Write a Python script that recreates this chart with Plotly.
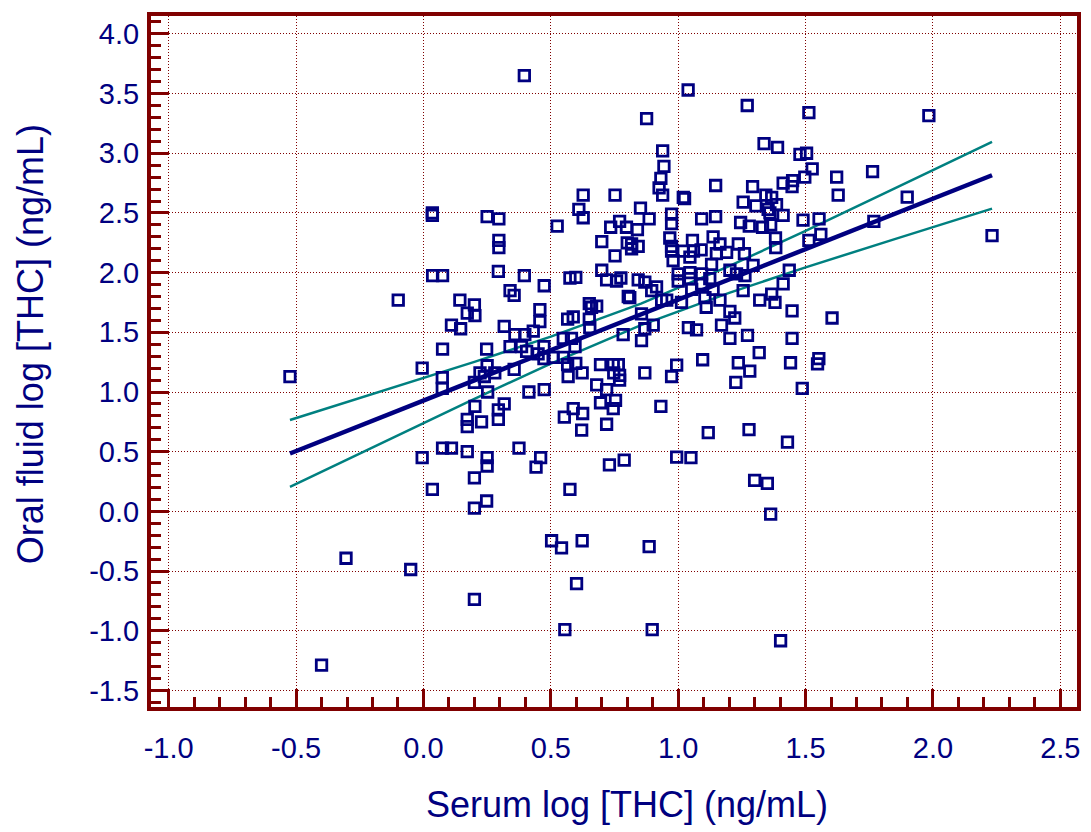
import plotly.graph_objects as go

# ---- data ----
serum_log = [
    0.396, 0.035, 0.035, 0.25, 0.296, 0.296, 0.296, 0.525, 0.627, 0.61, 0.627, 0.752, 0.70, 0.735, 0.77, 0.797, 0.752, 0.80,
    1.039, 0.876, 1.271, 1.513, 0.939, 1.337, 1.39, 1.478, 1.504, 0.944, 1.526, 0.932, 0.925, 0.939, 1.02, 1.025,
    1.147, 1.292, 1.412, 1.449, 1.447, 1.497, 1.622, 1.628, 1.344, 1.367, 1.255, 1.305, 1.353, 1.386, 1.412, 1.36,
    1.49, 1.553, 1.56, 1.513, 0.852, 0.886, 0.84, 0.974, 0.974, 1.092, 1.147, 1.245, 1.279, 1.331, 1.363, 1.382,
    0.967, 0.974, 0.817, 0.843, 1.056, 1.137, 1.164, 1.236, 1.383,
    0.974, 1.02, 1.06, 1.09, 0.817, 1.15, 1.19, 1.26, 0.98, 1.046, 1.131, 1.294, 1.436,
    0.843, 0.869, 0.915, 1.0, 1.046, 1.092, 1.0, 1.046, 1.203, 1.229, 1.262, 1.124, 1.053, 1.092, 1.137,
    0.81, 0.896, 0.935, 0.955, 1.013, 1.105, 1.164, 1.11, 1.255, 1.32, 1.367, 1.38, 1.412, 1.203, 1.222, 1.447,
    1.604, 0.856, 0.902, 0.869, 0.784, 0.856, 1.04, 1.072, 1.17, 1.203, 1.272, 1.447, 1.318, 1.096, 1.236, 1.441,
    1.552, 1.547, 0.994, 0.869, 0.974, 1.281, 1.226, 1.487, 0.932, 1.118, 1.278, 1.429, 0.994, 1.05, 1.30, 1.35,
    0.036, 0.075, 0.294, 0.396, 0.474, -0.099, 0.34, 0.356, 0.143, 0.20, 0.172, 0.202, 0.11, 0.146, 0.457, 0.457,
    0.317, 0.359, 0.398, 0.431, 0.34, 0.385, 0.405, 0.45, 0.473, 0.473, 0.509, 0.075, 0.248, -0.005, 0.074, 0.074,
    0.25, 0.222, 0.28, 0.20, 0.239, 0.356, 0.252, 0.414, 0.474, 0.317, 0.294, 0.202, 0.172, 0.172, 0.228, 0.294,
    -0.005, 0.075, 0.11, 0.172, 0.25, 0.25, 0.20, 0.375, 0.46, 0.442, 0.73, 0.788, 0.553, 0.588, 0.625, 0.621,
    0.695, 0.745, 0.754, 0.719, 0.68, 0.719, 0.568, 0.623, 0.566, 0.598, 0.695, 0.745, 0.765, 0.747, 0.77, 0.77,
    0.549, 0.581, 0.566, 0.588, 0.651, 0.66, 0.68, 0.651, 0.653, 0.575, 0.598, 0.70, 0.719, 0.758, 0.775, 0.804,
    0.595, 0.549,
    0.035, 0.248, 0.20, 0.575, -0.05, 0.503, 0.542, 0.623, 0.601, 0.20, 0.555,
    1.363, 0.886, 0.898, 1.402, -0.304, -0.40, -0.524,
    1.984, 1.763, 1.899, 1.768, 2.232,
]
oral_log = [
    3.65, 2.50, 2.48, 2.47, 2.45, 2.27, 2.21, 2.39, 2.65, 2.53, 2.46, 2.65, 2.26, 2.38, 2.43, 2.38, 2.14, 2.25,
    3.53, 3.29, 3.40, 3.34, 3.02, 3.08, 3.05, 2.99, 3.00, 2.89, 2.87, 2.79, 2.71, 2.65, 2.63, 2.62,
    2.73, 2.72, 2.75, 2.77, 2.72, 2.80, 2.80, 2.65, 2.65, 2.63, 2.59, 2.56, 2.53, 2.57, 2.48, 2.50,
    2.44, 2.45, 2.32, 2.27, 2.54, 2.45, 2.36, 2.49, 2.41, 2.45, 2.47, 2.42, 2.39, 2.38, 2.40, 2.29,
    2.29, 2.22, 2.24, 2.22, 2.27, 2.30, 2.24, 2.24, 2.21,
    2.18, 2.18, 2.18, 2.19, 2.20, 2.16, 2.17, 2.16, 2.10, 2.13, 2.07, 2.06, 2.02,
    1.94, 1.92, 1.88, 1.99, 2.00, 1.99, 1.93, 1.95, 2.02, 1.99, 1.975, 1.95, 1.86, 1.905, 1.86,
    1.79, 1.85, 1.77, 1.77, 1.75, 1.79, 1.77, 1.71, 1.85, 1.77, 1.82, 1.75, 1.905, 1.675, 1.62, 1.68,
    1.62, 1.655, 1.56, 1.53, 1.48, 1.43, 1.54, 1.52, 1.56, 1.45, 1.475, 1.45, 1.33, 1.27, 1.245, 1.245,
    1.28, 1.235, 1.225, 1.16, 1.13, 1.175, 1.08, 1.03, 0.88, 0.66, 0.685, 0.58, 0.455, 0.45, 0.26, 0.235,
    1.975, 1.975, 2.01, 1.975, 1.89, 1.77, 1.85, 1.81, 1.77, 1.73, 1.66, 1.64, 1.56, 1.53, 1.69, 1.59,
    1.55, 1.48, 1.48, 1.51, 1.38, 1.38, 1.34, 1.32, 1.38, 1.28, 1.29, 1.36, 1.36, 1.20, 1.12, 1.03,
    1.22, 1.16, 1.16, 1.08, 1.13, 1.19, 1.00, 1.00, 1.02, 0.90, 0.85, 0.88, 0.77, 0.71, 0.75, 0.77,
    0.45, 0.53, 0.53, 0.50, 0.45, 0.38, 0.28, 0.53, 0.45, 0.37, 0.39, 0.43, 0.79, 0.86, 0.82, 0.68,
    0.91, 0.86, 0.93, 0.73, 1.06, 1.02, 1.13, 1.16, 1.23, 1.24, 1.23, 1.23, 1.23, 1.16, 1.14, 1.10,
    1.45, 1.45, 1.61, 1.63, 1.74, 1.71, 1.72, 1.61, 1.54, 1.955, 1.96, 2.02, 1.94, 1.93, 1.955, 1.80,
    1.38, 1.29,
    0.185, 0.087, 0.027, 0.185, -0.487, -0.246, -0.306, -0.246, -0.606, -0.737, -0.99,
    -0.023, -0.296, -0.99, -1.084, -0.393, -1.289, 1.128,
    3.316, 2.846, 2.633, 2.43, 2.31,
]

# regression line and 95% confidence band
fit_x = [-0.524, -0.2, 0.2, 0.5, 0.854, 1.2, 1.5, 1.85, 2.232]
fit_y = [0.485, 0.759, 1.097, 1.351, 1.650, 1.943, 2.197, 2.493, 2.816]
ci_upper = [0.765, 0.981, 1.252, 1.464, 1.740, 2.055, 2.350, 2.705, 3.096]
ci_lower = [0.205, 0.537, 0.942, 1.238, 1.560, 1.831, 2.044, 2.281, 2.536]

x_tick_vals = [-1.0, -0.5, 0.0, 0.5, 1.0, 1.5, 2.0, 2.5]
x_tick_text = ["-1.0", "-0.5", "0.0", "0.5", "1.0", "1.5", "2.0", "2.5"]
y_tick_vals = [-1.5, -1.0, -0.5, 0.0, 0.5, 1.0, 1.5, 2.0, 2.5, 3.0, 3.5, 4.0]
y_tick_text = ["-1.5", "-1.0", "-0.5", "0.0", "0.5", "1.0", "1.5", "2.0", "2.5", "3.0", "3.5", "4.0"]

x_title = "Serum log [THC] (ng/mL)"
y_title = "Oral fluid log [THC] (ng/mL)"

NAVY = "#000080"
TEAL = "#008080"
MAROON = "#800000"
FONT = "Liberation Sans, Arial, sans-serif"

fig = go.Figure()
fig.add_trace(go.Scatter(x=fit_x, y=ci_upper, mode="lines", line=dict(color=TEAL, width=2.5), hoverinfo="skip"))
fig.add_trace(go.Scatter(x=fit_x, y=ci_lower, mode="lines", line=dict(color=TEAL, width=2.5), hoverinfo="skip"))
fig.add_trace(go.Scatter(x=fit_x, y=fit_y, mode="lines", line=dict(color=NAVY, width=4.5), hoverinfo="skip"))
fig.add_trace(go.Scatter(
    x=serum_log, y=oral_log, mode="markers",
    marker=dict(symbol="square-open", size=10.5, color=NAVY, line=dict(width=2.8, color=NAVY)),
))

axis_common = dict(
    showline=True, linecolor=MAROON, linewidth=4, mirror=True,
    ticks="inside", ticklen=18, tickwidth=3, tickcolor=MAROON,
    showgrid=True, gridcolor=MAROON, gridwidth=1, griddash="1px,2px",
    zeroline=False,
    tickfont=dict(family=FONT, size=29, color=NAVY),
    minor=dict(ticks="inside", ticklen=10, tickwidth=3, tickcolor=MAROON, dtick=0.1, showgrid=False),
)

fig.update_xaxes(
    range=[-1.0695, 2.5655], tickmode="array", tickvals=x_tick_vals, ticktext=x_tick_text,
    ticklabelstandoff=12,
    **axis_common,
)
fig.update_yaxes(
    range=[-1.639, 4.150], tickmode="array", tickvals=y_tick_vals, ticktext=y_tick_text,
    ticklabelstandoff=2,
    **axis_common,
)
fig.add_annotation(
    text=x_title, xref="paper", yref="paper", x=0.514, y=-0.1405,
    xanchor="center", yanchor="middle", showarrow=False,
    font=dict(family=FONT, size=36, color=NAVY),
)
fig.add_annotation(
    text=y_title, xref="paper", yref="paper", x=-0.1307, y=0.525, textangle=-90,
    xanchor="center", yanchor="middle", showarrow=False,
    font=dict(family=FONT, size=36, color=NAVY),
)
fig.update_layout(
    width=1091, height=832,
    margin=dict(l=143, r=22, t=4, b=133),
    plot_bgcolor="white", paper_bgcolor="white",
    showlegend=False,
)
fig.write_html("out.html")
